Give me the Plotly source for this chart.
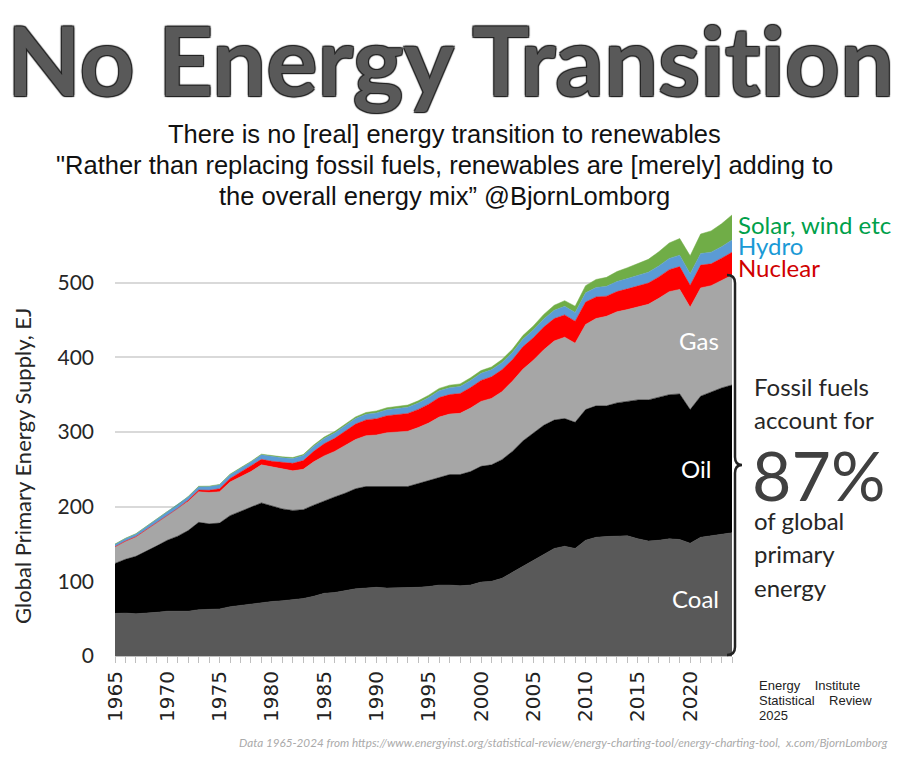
import plotly.graph_objects as go

years = list(range(1965, 2025))

coal = [57, 57.5, 56.5, 57, 58.5, 60, 59.5, 60, 62, 62,
        63, 66, 68, 69, 72, 73, 74, 75, 77, 80,
        84, 85, 88, 90, 91, 92, 91, 91, 91, 92,
        93, 95, 95, 94, 95, 99, 100, 104, 112, 120,
        128, 137, 144, 147, 144, 155, 159, 160, 161, 161,
        157, 154, 155, 157, 156, 151, 159, 161, 163, 165]

oil = [67, 72, 77, 83, 89, 95, 101, 108, 117, 115,
       115, 122, 126, 130, 133, 128, 123, 120, 119, 122,
       124, 128, 130, 134, 136, 135, 136, 136, 136, 139,
       142, 145, 148, 149, 152, 155, 156, 159, 162, 168,
       171, 172, 172, 171, 169, 175, 176, 175, 178, 180,
       186, 189, 192, 193, 195, 179, 189, 193, 196, 198]

gas = [22, 24, 26, 29, 31, 33, 36, 39, 41, 42,
       42, 45, 46, 48, 51, 52, 53, 53, 54, 58,
       60, 61, 64, 66, 68, 69, 72, 73, 74, 75,
       77, 80, 81, 82, 85, 87, 89, 91, 94, 96,
       97, 101, 106, 109, 106, 114, 117, 120, 122, 123,
       125, 128, 132, 138, 140, 137, 145, 142, 144, 147]

nuclear = [0.3, 0.4, 0.4, 0.6, 0.7, 0.9, 1.2, 1.7, 2.2, 2.9,
           4.0, 4.7, 6.0, 7.0, 7.4, 7.8, 9.2, 10.1, 11.7, 14.1,
           16.3, 17.5, 19.1, 20.6, 21.2, 21.8, 22.8, 23.0, 23.8, 24.3,
           25.3, 26.2, 26.1, 26.6, 27.6, 28.1, 28.9, 29.4, 28.8, 30.1,
           30.2, 30.6, 29.9, 29.8, 29.4, 30.0, 28.9, 26.9, 27.1, 27.7,
           28.0, 28.5, 28.7, 29.4, 30.5, 29.4, 30.5, 29.2, 29.8, 30.7]

hydro = [3.3, 3.5, 3.6, 3.8, 4.0, 4.2, 4.4, 4.5, 4.6, 5.0,
         5.2, 5.2, 5.4, 5.8, 6.0, 6.3, 6.4, 6.5, 6.7, 6.9,
         7.1, 7.2, 7.3, 7.5, 7.5, 7.8, 8.0, 8.0, 8.4, 8.5,
         8.9, 9.0, 9.2, 9.3, 9.4, 9.5, 9.4, 9.5, 9.6, 10.1,
         10.5, 10.9, 11.1, 11.5, 11.7, 12.4, 12.6, 13.2, 13.5, 13.9,
         14.0, 14.5, 14.7, 15.1, 15.3, 15.7, 15.5, 15.6, 15.3, 16.5]

solar_wind = [0.3, 0.3, 0.3, 0.4, 0.4, 0.4, 0.5, 0.5, 0.5, 0.6,
              0.6, 0.6, 0.7, 0.8, 0.9, 1.0, 1.1, 1.2, 1.4, 1.6,
              1.8, 1.9, 2.0, 2.1, 2.4, 2.6, 2.7, 2.8, 2.9, 3.0,
              3.1, 3.2, 3.4, 3.5, 3.6, 3.7, 3.8, 4.1, 4.4, 4.9,
              5.4, 6.0, 6.7, 7.6, 8.4, 9.6, 10.8, 12.0, 13.3, 14.4,
              15.8, 17.2, 19.0, 20.7, 22.3, 23.8, 26.1, 28.5, 30.7, 33.5]

series = [
    ("Coal", coal, "#595959"),
    ("Oil", oil, "#000000"),
    ("Gas", gas, "#a6a6a6"),
    ("Nuclear", nuclear, "#ff0000"),
    ("Hydro", hydro, "#5b9bd5"),
    ("Solar, wind etc", solar_wind, "#70ad47"),
]

tick_years = [y for y in years if y % 5 == 0]

# plot area in pixels
L, R, T, B = 115, 168, 208, 103
W, H = 900 - L - R, 759 - T - B


def px(x):
    return (x - L) / W


def py(y):
    return (759 - B - y) / H


fig = go.Figure()
for name, vals, col in series:
    fig.add_trace(go.Scatter(
        x=years, y=vals, name=name, mode="lines", stackgroup="one",
        line=dict(width=0.5, color=col), fillcolor=col,
    ))

lato = "Lato, Open Sans, sans-serif"
narrow = "Liberation Sans Narrow, Arial Narrow, Liberation Sans, sans-serif"

ann = []


def text(x, y, s, size, color="#262626", family=lato, xanchor="left", **font_kw):
    ann.append(dict(x=px(x), y=py(y), xref="paper", yref="paper", text=s,
                    showarrow=False, xanchor=xanchor, yanchor="middle",
                    font=dict(size=size, color=color, family=family, **font_kw)))


# heading (zero-width non-joiner keeps "ti" from becoming a ligature)
text(450, 58, "No Energy Transit\u200cion", 96, "#595959", xanchor="center", weight=700,
     shadow="1px 1px 1px #222, -1px -1px 1px #222, 1px -1px 1px #222, -1px 1px 1px #222")
sub = ["There is no [real] energy transition to renewables",
       "\"Rather than replacing fossil fuels, renewables are [merely] adding to",
       "the overall energy mix\u201d @BjornLomborg"]
for i, s in enumerate(sub):
    text(445, 134 + 31 * i, s, 25.5, "#111", family=narrow, xanchor="center")

# labels inside the areas
text(721, 340, "Gas", 24, "white", xanchor="right")
text(713, 468, "Oil", 24, "white", xanchor="right")
text(721, 598, "Coal", 24, "white", xanchor="right")

# legend-like labels on the right
text(736, 224, "Solar, wind etc", 24, "#00a04a")
text(736, 245, "Hydro", 24, "#1a9ad6")
text(736, 267, "Nuclear", 24, "#d00000")

# fossil share note
text(752, 386, "Fossil fuels", 24)
text(752, 419, "account for", 24)
text(750, 474, "87%", 68, "#404040")
text(752, 520, "of global", 24)
text(752, 553, "primary", 24)
text(752, 587, "energy", 24)

# source notes
text(757, 685, "Energy &nbsp; &nbsp;Institute", 13, "#222", family=narrow)
text(757, 700, "Statistical &nbsp; &nbsp;Review", 13, "#222", family=narrow)
text(757, 715, "2025", 13, "#222", family=narrow)
text(890, 742, "Data 1965-2024 from https://www.energyinst.org/statistical-review/energy-charting-tool/energy-charting-tool,  x.com/BjornLomborg",
     11.7, "#aaaaaa", xanchor="right", style="italic")

# y axis title
ann.append(dict(x=px(22), y=py(466), xref="paper", yref="paper", textangle=-90,
                xanchor="center", yanchor="middle", showarrow=False,
                text="Global Primary Energy Supply, EJ",
                font=dict(size=22, color="#262626", family=lato)))

# curly brace spanning fossil fuels
top, bot, mid = 275, 655, 465
tip, spine, point = 727, 735, 742
r = 8
path = (f"M {px(tip)},{py(top)} Q {px(spine)},{py(top)} {px(spine)},{py(top + r)} "
        f"L {px(spine)},{py(mid - r)} Q {px(spine)},{py(mid)} {px(point)},{py(mid)} "
        f"Q {px(spine)},{py(mid)} {px(spine)},{py(mid + r)} "
        f"L {px(spine)},{py(bot - r)} Q {px(spine)},{py(bot)} {px(tip)},{py(bot)}")

fig.update_layout(
    width=900, height=759,
    margin=dict(l=L, r=R, t=T, b=B),
    paper_bgcolor="white", plot_bgcolor="white",
    showlegend=False,
    annotations=ann,
    shapes=[dict(type="path", path=path, xref="paper", yref="paper",
                 line=dict(color="#222", width=2.5))],
    xaxis=dict(range=[1965, 2024], tickvals=tick_years, tickangle=-90,
               ticks="outside", ticklen=6, tickcolor="#bfbfbf",
               minor=dict(dtick=1, tick0=1965, ticks="outside", ticklen=6, tickcolor="#bfbfbf"),
               showgrid=False, showline=True, linecolor="#bfbfbf",
               tickfont=dict(family="DejaVu Sans", size=20, color="#222")),
    yaxis=dict(range=[0, 600], tickvals=[0, 100, 200, 300, 400, 500],
               showgrid=True, gridcolor="#d9d9d9", gridwidth=1.5,
               zeroline=False, ticks="", ticklabelstandoff=20,
               tickfont=dict(family=lato, size=21, color="#262626")),
)

fig.write_html("out.html", config={"displayModeBar": False},
               post_script="document.body.style.margin='0px';")
